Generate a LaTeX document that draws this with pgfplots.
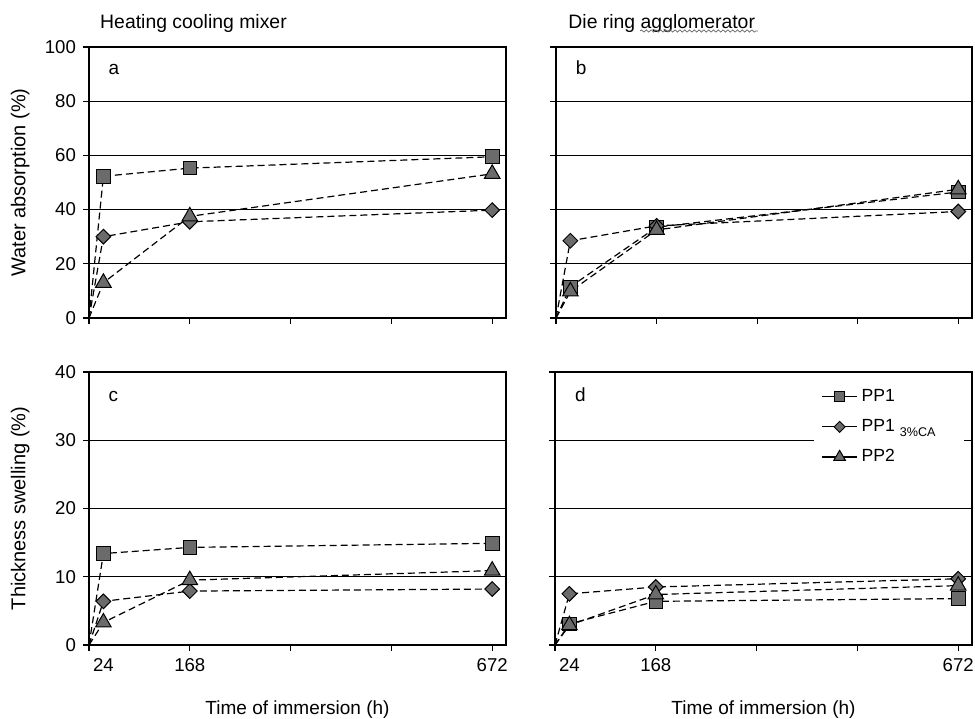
\documentclass[border=0pt]{standalone}
\usepackage{pgfplots}
\pgfplotsset{compat=1.18}
\usepackage{fontspec}
\setmainfont{Liberation Sans}
\usetikzlibrary{decorations.pathmorphing}
\definecolor{mk}{HTML}{6B6B6B}

\tikzset{letter/.style={font=\fontsize{9.5}{10}\selectfont, anchor=base west},
         ptitle/.style={font=\fontsize{9.7}{10}\selectfont, anchor=base west, inner sep=0pt}}

\pgfplotsset{
  panel/.style={
    scale only axis,
    anchor=south west,
    xmin=0, xmax=695,
    xtick={0,168,336,504,672},
    xticklabels={},
    xtick pos=bottom, ytick pos=left,
    tick align=outside,
    major tick length=3pt,
    every tick/.style={black, line width=0.6pt},
    axis line style={black, line width=0.7pt},
    ymajorgrids,
    grid style={black, line width=0.6pt},
    /pgf/number format/assume math mode=true,
    tick label style={font=\fontsize{9.3}{10}\selectfont},
    ylabel style={font=\fontsize{10}{11}\selectfont},
    xlabel style={font=\fontsize{9.5}{11}\selectfont},
    clip=false,
    legend image code/.code={%
      \draw[solid, line width=0.6pt, mark indices={2}, every mark/.append style={scale=0.75}]
        plot coordinates {(0pt,0pt) (8.75pt,0pt) (17.5pt,0pt)};},
  },
  s1/.style={black, line width=0.6pt, dash pattern=on 3.5pt off 2pt, mark=square*, mark indices={2,3,4},
    mark size=3.4pt, mark options={solid, fill=mk, draw=black, line width=0.5pt}},
  s2/.style={black, line width=0.6pt, dash pattern=on 3.5pt off 2pt, mark=square*, mark indices={2,3,4},
    mark size=2.6pt, mark options={solid, rotate=45, fill=mk, draw=black, line width=0.5pt}},
  s3/.style={black, line width=0.6pt, dash pattern=on 3.5pt off 2pt, mark=triangle*, mark indices={2,3,4},
    mark size=4.5pt, mark options={solid, fill=mk, draw=black, line width=0.5pt}},
  bottomticks/.style={
    xticklabels={{},168,{},{},672},
    extra x ticks={24}, extra x tick labels={24},
    extra x tick style={grid=none, major tick style={draw=none}},
  },
}

\begin{document}
\begin{tikzpicture}

% Panel a
\begin{axis}[panel, at={(44.5pt,200pt)}, width=208.5pt, height=135.5pt,
  ymin=0, ymax=100, ytick={0,20,40,60,80,100},
  ylabel={Water absorption (\%)},
  ylabel style={at={(axis description cs:-0.165,0.5)}, anchor=center}]
\addplot[s1] coordinates {(0,0) (24,52.3) (168,55.3) (672,59.5)};
\addplot[s2] coordinates {(0,0) (24,30.0) (168,35.5) (672,39.8)};
\addplot[s3] coordinates {(0,0) (24,13.0) (168,37.5) (672,53.2)};
\node[letter] at (axis description cs:0.030,0.897) {a};
\node[ptitle] at (axis description cs:0.026,1.07) {Heating cooling mixer};
\end{axis}

% Panel b
\begin{axis}[panel, at={(278pt,200pt)}, width=208pt, height=135.5pt,
  ymin=0, ymax=100, ytick={0,20,40,60,80,100}, yticklabels={}]
\addplot[s1] coordinates {(0,0) (24,11.5) (168,33.5) (672,46.5)};
\addplot[s2] coordinates {(0,0) (24,28.5) (168,34.0) (672,39.3)};
\addplot[s3] coordinates {(0,0) (24,9.8) (168,32.5) (672,47.5)};
\node[letter] at (axis description cs:0.031,0.897) {b};
\node[ptitle] at (axis description cs:0.029,1.07) {Die ring agglomerator};
\end{axis}

% Panel c
\begin{axis}[panel, bottomticks, at={(44.5pt,36.5pt)}, width=208.5pt, height=136.5pt,
  ymin=0, ymax=40, ytick={0,10,20,30,40},
  ylabel={Thickness swelling (\%)},
  ylabel style={at={(axis description cs:-0.165,0.5)}, anchor=center},
  xlabel={Time of immersion (h)},
  xlabel style={at={(axis description cs:0.5,-0.238)}, anchor=center}]
\addplot[s1] coordinates {(0,0) (24,13.4) (168,14.3) (672,14.9)};
\addplot[s2] coordinates {(0,0) (24,6.4) (168,7.9) (672,8.2)};
\addplot[s3] coordinates {(0,0) (24,3.3) (168,9.5) (672,10.9)};
\node[letter] at (axis description cs:0.030,0.891) {c};
\end{axis}

% Panel d
\begin{axis}[panel, bottomticks, at={(277.5pt,36.5pt)}, width=208.5pt, height=136.5pt,
  ymin=0, ymax=40, ytick={0,10,20,30,40}, yticklabels={},
  xlabel={Time of immersion (h)},
  xlabel style={at={(axis description cs:0.5,-0.238)}, anchor=center},
  legend style={draw=none, fill=white, at={(axis description cs:0.619,0.975)}, anchor=north west,
    font=\fontsize{8.8}{9.5}\selectfont, row sep=3.5pt, inner xsep=4pt, inner ysep=3pt},
  legend cell align=left]
\addplot[s1] coordinates {(0,0) (24,3.1) (168,6.4) (672,6.8)};
\addlegendentry{PP1}
\addplot[s2] coordinates {(0,0) (24,7.5) (168,8.5) (672,9.7)};
\addlegendentry{PP1 \raisebox{-2.5pt}{\fontsize{6.3}{7}\selectfont 3\%CA}\hspace*{8pt}}
\addplot[s3] coordinates {(0,0) (24,2.9) (168,7.4) (672,8.7)};
\addlegendentry{PP2}
\node[letter] at (axis description cs:0.031,0.891) {d};
\end{axis}

\draw[gray!80!black, line width=0.35pt, decorate, decoration={snake, amplitude=0.55pt, segment length=2.4pt}]
  (320pt,343.5pt) -- (379pt,343.5pt);

\pgfresetboundingbox
\path[use as bounding box] (0,0) rectangle (487.5pt,359pt);
\end{tikzpicture}
\end{document}
